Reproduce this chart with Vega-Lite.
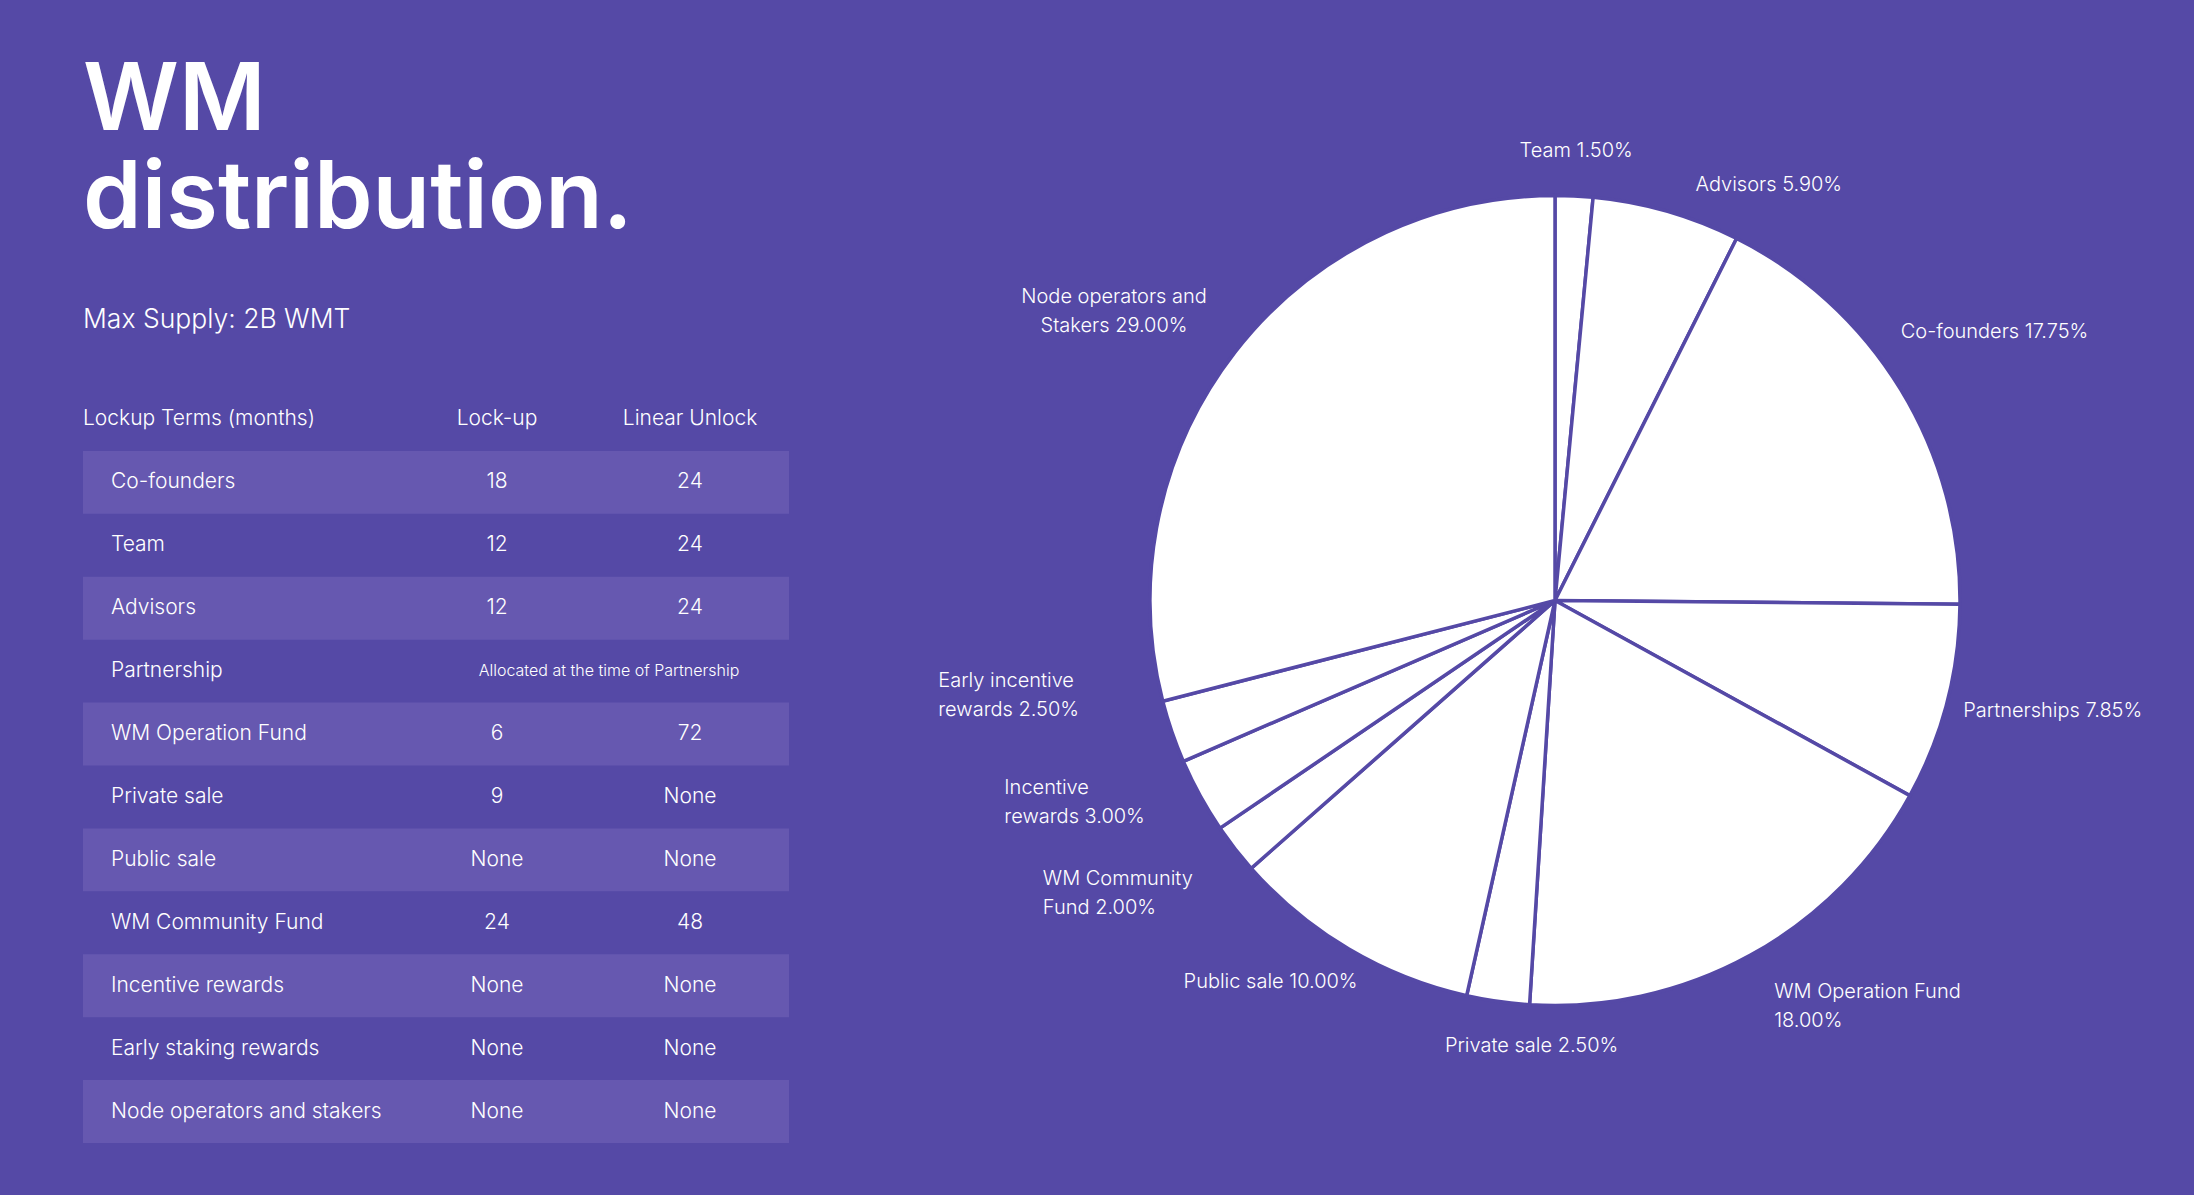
{
  "$schema": "https://vega.github.io/schema/vega-lite/v6.json",
  "background": "#5549A6",
  "padding": {"left": 83, "top": 54, "right": 0, "bottom": 52},
  "bounds": "flush",
  "spacing": 126.5,
  "config": {"view": {"stroke": null}, "font": "Inter", "text": {"fontSize": 20, "fontWeight": 300, "color": "white", "baseline": "middle", "lineBreak": "\n", "lineHeight": 29}},
  "datasets": {
    "lockup": [
      {"row": "Lockup Terms (months)", "lockup": "Lock-up", "unlock": "Linear Unlock"},
      {"row": "Co-founders", "lockup": "18", "unlock": "24"},
      {"row": "Team", "lockup": "12", "unlock": "24"},
      {"row": "Advisors", "lockup": "12", "unlock": "24"},
      {"row": "Partnership", "lockup": "", "unlock": "", "note": "Allocated at the time of Partnership"},
      {"row": "WM Operation Fund", "lockup": "6", "unlock": "72"},
      {"row": "Private sale", "lockup": "9", "unlock": "None"},
      {"row": "Public sale", "lockup": "None", "unlock": "None"},
      {"row": "WM Community Fund", "lockup": "24", "unlock": "48"},
      {"row": "Incentive rewards", "lockup": "None", "unlock": "None"},
      {"row": "Early staking rewards", "lockup": "None", "unlock": "None"},
      {"row": "Node operators and stakers", "lockup": "None", "unlock": "None"}
    ],
    "allocation": [
      {"name": "Team", "value": 1.5, "label": "Team 1.50%"},
      {"name": "Advisors", "value": 5.9, "label": "Advisors 5.90%"},
      {"name": "Co-founders", "value": 17.75, "label": "Co-founders 17.75%"},
      {"name": "Partnerships", "value": 7.85, "label": "Partnerships 7.85%"},
      {"name": "WM Operation Fund", "value": 18, "label": "WM Operation Fund\n18.00%"},
      {"name": "Private sale", "value": 2.5, "label": "Private sale 2.50%"},
      {"name": "Public sale", "value": 10, "label": "Public sale 10.00%"},
      {"name": "WM Community Fund", "value": 2, "label": "WM Community\nFund 2.00%"},
      {"name": "Incentive rewards", "value": 3, "label": "Incentive\nrewards 3.00%"},
      {"name": "Early incentive rewards", "value": 2.5, "label": "Early incentive\nrewards 2.50%"},
      {"name": "Node operators and Stakers", "value": 29, "label": "Node operators and\nStakers 29.00%"}
    ]
  },
  "hconcat": [
    {
      "width": 706,
      "height": 755,
      "title": {
        "text": ["WM", "distribution."],
        "subtitle": "Max Supply: 2B WMT",
        "anchor": "start",
        "font": "Inter",
        "fontSize": 94,
        "fontWeight": 600,
        "lineHeight": 98,
        "color": "white",
        "subtitleFont": "Inter",
        "subtitleFontSize": 26.5,
        "subtitleFontWeight": 300,
        "subtitleColor": "white",
        "subtitlePadding": 59,
        "offset": 54
      },
      "data": {"name": "lockup"},
      "encoding": {
        "y": {
          "field": "row",
          "type": "nominal",
          "sort": ["Lockup Terms (months)", "Co-founders", "Team", "Advisors", "Partnership", "WM Operation Fund", "Private sale", "Public sale", "WM Community Fund", "Incentive rewards", "Early staking rewards", "Node operators and stakers"],
          "axis": null,
          "scale": {"paddingInner": 0, "paddingOuter": 0}
        }
      },
      "layer": [
        {
          "transform": [{"filter": {"field": "row", "oneOf": ["Co-founders", "Advisors", "WM Operation Fund", "Public sale", "Incentive rewards", "Node operators and stakers"]}}],
          "mark": {"type": "rect", "fill": "#6658B0"}
        },
        {
          "transform": [{"filter": "datum.row != 'Lockup Terms (months)'"}],
          "mark": {"type": "text", "align": "left", "fontSize": 21},
          "encoding": {
            "x": {"datum": "name", "type": "nominal", "axis": null, "scale": {"type": "point", "domain": ["name", "gap", "Lock-up", "Linear Unlock"], "padding": 0.329, "align": 0.2205}},
            "text": {"field": "row"}
          }
        },
        {
          "transform": [{"filter": "datum.row == 'Lockup Terms (months)'"}],
          "mark": {"type": "text", "align": "left", "fontSize": 21, "dx": -28},
          "encoding": {
            "x": {"datum": "name", "type": "nominal", "axis": null, "scale": {"type": "point", "domain": ["name", "gap", "Lock-up", "Linear Unlock"], "padding": 0.329, "align": 0.2205}},
            "text": {"field": "row"}
          }
        },
        {
          "mark": {"type": "text", "align": "center", "fontSize": 21},
          "encoding": {
            "x": {"datum": "Lock-up", "type": "nominal", "axis": null, "scale": {"type": "point", "domain": ["name", "gap", "Lock-up", "Linear Unlock"], "padding": 0.329, "align": 0.2205}},
            "text": {"field": "lockup"}
          }
        },
        {
          "mark": {"type": "text", "align": "center", "fontSize": 21},
          "encoding": {
            "x": {"datum": "Linear Unlock", "type": "nominal", "axis": null, "scale": {"type": "point", "domain": ["name", "gap", "Lock-up", "Linear Unlock"], "padding": 0.329, "align": 0.2205}},
            "text": {"field": "unlock"}
          }
        },
        {
          "transform": [{"filter": "datum.note"}],
          "mark": {"type": "text", "align": "center", "fontSize": 16, "dx": -81},
          "encoding": {
            "x": {"datum": "Linear Unlock", "type": "nominal", "axis": null, "scale": {"type": "point", "domain": ["name", "gap", "Lock-up", "Linear Unlock"], "padding": 0.329, "align": 0.2205}},
            "text": {"field": "note"}
          }
        }
      ]
    },
    {
      "width": 1279,
      "height": 425,
      "data": {"name": "allocation"},
      "transform": [{"window": [{"op": "row_number", "as": "slice_order"}]}],
      "encoding": {
        "theta": {"field": "value", "type": "quantitative", "stack": true},
        "order": {"field": "slice_order", "type": "quantitative"}
      },
      "layer": [
        {"mark": {"type": "arc", "outerRadius": 405, "fill": "white", "stroke": "#5549A6", "strokeWidth": 3.5}},
        {
          "mark": {"type": "text", "radius": 450, "align": "center"},
          "encoding": {"text": {"condition": {"test": "datum.name == 'Team'", "field": "label"}, "value": ""}}
        },
        {
          "mark": {"type": "text", "radius": 450, "align": "center", "dx": 40},
          "encoding": {"text": {"condition": {"test": "datum.name == 'Private sale'", "field": "label"}, "value": ""}}
        },
        {
          "mark": {"type": "text", "radius": 455, "align": "left", "dx": 15, "dy": 22},
          "encoding": {"text": {"condition": {"test": "datum.name == 'Advisors'", "field": "label"}, "value": ""}}
        },
        {
          "mark": {"type": "text", "radius": 455, "align": "left", "dy": -7},
          "encoding": {"text": {"condition": {"test": "datum.name == 'WM Operation Fund'", "field": "label"}, "value": ""}}
        },
        {
          "mark": {"type": "text", "radius": 515, "align": "center"},
          "encoding": {"text": {"condition": {"test": "datum.name == 'Co-founders'", "field": "label"}, "value": ""}}
        },
        {
          "mark": {"type": "text", "radius": 500, "align": "center", "dx": 14, "dy": -16},
          "encoding": {"text": {"condition": {"test": "datum.name == 'Partnerships'", "field": "label"}, "value": ""}}
        },
        {
          "mark": {"type": "text", "radius": 515, "align": "center", "dx": -34, "dy": 12},
          "encoding": {"text": {"condition": {"test": "datum.name == 'Node operators and Stakers'", "field": "label"}, "value": ""}}
        },
        {
          "mark": {"type": "text", "radius": 490, "align": "center", "dx": -35, "dy": -40},
          "encoding": {"text": {"condition": {"test": "datum.name == 'Public sale'", "field": "label"}, "value": ""}}
        },
        {
          "mark": {"type": "text", "radius": 490, "align": "left", "dx": -125, "dy": -22},
          "encoding": {"text": {"condition": {"test": "datum.name == 'WM Community Fund'", "field": "label"}, "value": ""}}
        },
        {
          "mark": {"type": "text", "radius": 480, "align": "left", "dx": -130, "dy": -44},
          "encoding": {"text": {"condition": {"test": "datum.name == 'Incentive rewards'", "field": "label"}, "value": ""}}
        },
        {
          "mark": {"type": "text", "radius": 450, "align": "left", "dx": -191, "dy": -65},
          "encoding": {"text": {"condition": {"test": "datum.name == 'Early incentive rewards'", "field": "label"}, "value": ""}}
        }
      ]
    }
  ]
}
